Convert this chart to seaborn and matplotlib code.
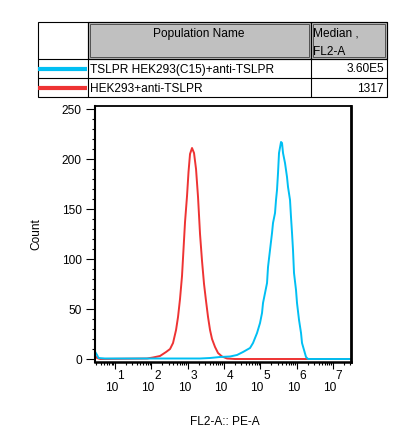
import numpy as np
import pandas as pd
import matplotlib
matplotlib.use('Agg')
import matplotlib.pyplot as plt
import seaborn as sns
from matplotlib.patches import Rectangle
from matplotlib.ticker import MultipleLocator, LogLocator, NullFormatter

# Histogramas (FL2-A, contagem por bin)
red_fl2 = [2.85, 3.2, 3.9, 76, 111, 173, 254, 327, 395, 478, 542, 615, 698,
           768, 845, 959, 1054, 1160, 1316, 1494, 1697, 1926, 2186,
           2482, 2817, 3199, 3631, 4121, 4677, 5659, 6843, 8815, 12100,
           20100, 2.94e7]
red_count = [3, 1, 0, 0.5, 1.5, 3, 7, 10, 16, 29, 42, 60, 83,
             110, 137, 163, 187, 205, 211, 206, 190, 162, 125,
             98, 75, 58, 42, 29, 20, 12, 6, 2.5, 0.5,
             0, 0]

blue_fl2 = [2.85, 3.2, 3.5, 5.3, 2186, 4121, 7762, 14620, 22800, 33340,
            52000, 62900, 81100, 98000, 111200, 118500,
            134600, 152800, 162700, 184600, 209600, 223200,
            253500, 270000, 287600, 306600, 326600,
            370800, 395300, 420800, 477500, 542000,
            578000, 656000, 698000, 745000, 793000,
            845000, 959000, 1.022e6, 1.161e6, 1.318e6,
            1.403e6, 1.593e6, 1.808e6, 2.052e6, 2.94e7]
blue_count = [7, 4, 1, 0.5, 0.5, 1, 2, 2.5, 4, 7,
              11, 16, 26, 36, 46, 56,
              66, 76, 92, 109, 126, 136,
              146, 159, 169, 186, 206,
              217, 216, 206, 196, 182,
              172, 159, 142, 126, 109,
              86, 69, 56, 39, 26,
              16, 9, 2, 0, 0]

# Tabela de populações
populations = ['TSLPR HEK293(C15)+anti-TSLPR', 'HEK293+anti-TSLPR']
medians = ['3.60E5', '1317']
pop_colors = ['#00bff3', '#ee3333']

y_ticks = [0, 50, 100, 150, 200, 250]
x_decades = [1, 2, 3, 4, 5, 6, 7]

sns.set_style('ticks', rc={'axes.edgecolor': 'black', 'xtick.color': 'black',
                           'ytick.color': 'black', 'text.color': 'black',
                           'axes.labelcolor': 'black'})
plt.rcParams['font.family'] = ['Liberation Sans', 'DejaVu Sans']
fs = 8.6

fig = plt.figure(figsize=(4.17, 4.44), dpi=100)

# Tabela desenhada em coordenadas de pixel
tab = fig.add_axes([0, 0, 1, 1])
tab.set_xlim(0, 417)
tab.set_ylim(444, 0)
tab.axis('off')

for x0, w in [(88, 223), (311, 76)]:
    tab.add_patch(Rectangle((x0, 22), w, 37, fc='#c0c0c0', ec='black', lw=0.8))
    tab.add_patch(Rectangle((x0 + 2, 24), w - 4, 33, fill=False, ec='#404040', lw=0.6))
tab.add_patch(Rectangle((38, 22), 349, 75, fill=False, ec='black', lw=0.8))
for yy in [59, 78]:
    tab.plot([38, 387], [yy, yy], color='black', lw=0.8)
for xx in [88, 311]:
    tab.plot([xx, xx], [22, 97], color='black', lw=0.8)

tab.text(199, 34, 'Population Name', ha='center', va='center', fontsize=fs)
tab.text(313, 34, 'Median ,', ha='left', va='center', fontsize=fs)
tab.text(313, 52, 'FL2-A', ha='left', va='center', fontsize=fs)
for i, (name, med, col) in enumerate(zip(populations, medians, pop_colors)):
    yy = 69 + i * 19
    tab.plot([38, 87], [yy, yy], color=col, lw=3, solid_capstyle='butt')
    tab.text(90.5, yy + 0.5, name, ha='left', va='center', fontsize=fs)
    tab.text(384, yy + 0.5, med, ha='right', va='center', fontsize=fs)

# Histogramas
ax = fig.add_axes([95 / 417, 82 / 444, 256 / 417, 256 / 444])
sns.lineplot(x=red_fl2, y=red_count, ax=ax, color=pop_colors[1], lw=1.4,
             estimator=None, sort=False)
sns.lineplot(x=blue_fl2, y=blue_count, ax=ax, color=pop_colors[0], lw=1.4,
             estimator=None, sort=False)

ax.set_xscale('log')
ax.set_xlim(2.81, 3.13e7)
ax.set_ylim(-3, 253)

ax.set_yticks(y_ticks)
ax.yaxis.set_minor_locator(MultipleLocator(10))
ax.set_xticks([10 ** n for n in x_decades])
ax.set_xticklabels([f'    {n}\n10' for n in x_decades])
ax.xaxis.set_minor_locator(LogLocator(base=10, subs=np.arange(2, 10), numticks=30))
ax.xaxis.set_minor_formatter(NullFormatter())
for t in ax.get_xticklabels():
    t.set_multialignment('left')
    t.set_linespacing(0.95)

ax.tick_params(axis='x', which='major', length=5, width=0.8, pad=1, labelsize=fs)
ax.tick_params(axis='x', which='minor', length=2.4, width=0.8)
ax.tick_params(axis='y', which='major', length=6.5, width=0.8, pad=3, labelsize=fs)
ax.tick_params(axis='y', which='minor', length=2.4, width=0.8)

ax.spines['left'].set_linewidth(1.5)
ax.spines['top'].set_linewidth(1.3)
ax.spines['right'].set_linewidth(2.0)
ax.spines['bottom'].set_linewidth(1.8)

ax.set_ylabel('Count', fontsize=fs)
ax.set_xlabel('FL2-A:: PE-A', fontsize=fs)
ax.yaxis.set_label_coords(-0.207, 0.5)
ax.xaxis.set_label_coords(0.508, -0.211)

fig.savefig('out.png', dpi=100)
